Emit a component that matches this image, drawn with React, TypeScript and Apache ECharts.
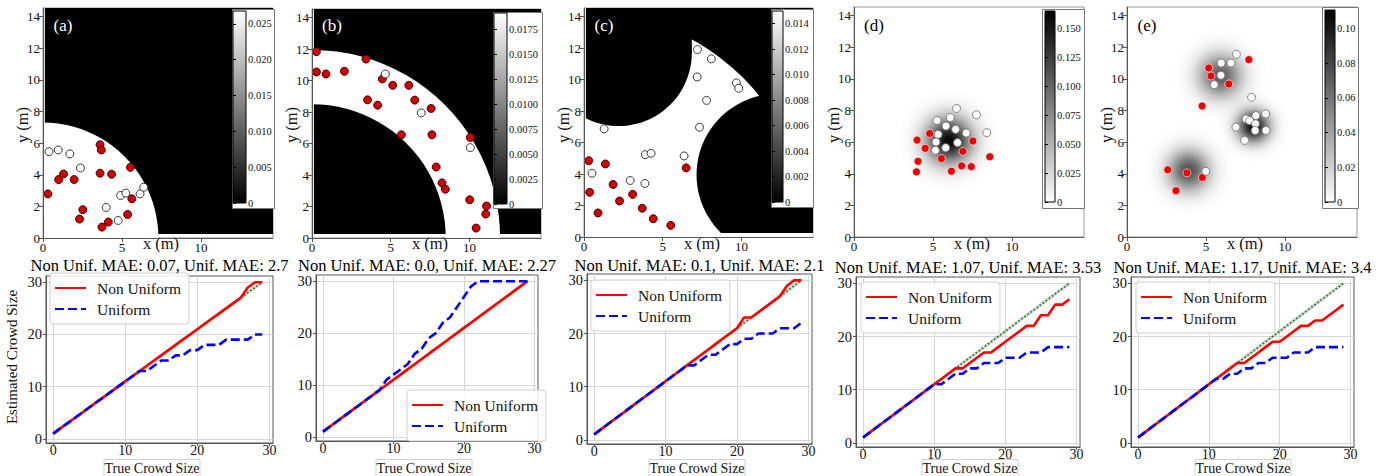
import React, { useEffect, useRef } from "react";
import * as echarts from "echarts";

const FONT = '"Liberation Serif", "Times New Roman", serif';

// ---------------- data: crowd size estimation ----------------
const trueCrowdSize = [0, 1, 2, 3, 4, 5, 6, 7, 8, 9, 10, 11, 12, 13, 14, 15, 16, 17, 18, 19, 20, 21, 22, 23, 24, 25, 26, 27, 28, 29];
const idealCount = [1, 2, 3, 4, 5, 6, 7, 8, 9, 10, 11, 12, 13, 14, 15, 16, 17, 18, 19, 20, 21, 22, 23, 24, 25, 26, 27, 28, 29, 30];

const nonUniformA = [1, 2, 3, 4, 5, 6, 7, 8, 9, 10, 11, 12, 13, 14, 15, 16, 17, 18, 19, 20, 21, 22, 23, 24, 25, 26, 27, 29, 30, 30];
const uniformA = [1, 2, 3, 4, 5, 6, 7, 8, 9, 10, 11, 12, 13, 13, 14, 15, 15, 16, 16, 17, 17, 18, 18, 18, 19, 19, 19, 19, 20, 20];
const nonUniformB = [1, 2, 3, 4, 5, 6, 7, 8, 9, 10, 11, 12, 13, 14, 15, 16, 17, 18, 19, 20, 21, 22, 23, 24, 25, 26, 27, 28, 29, 30];
const uniformB = [1, 2, 3, 4, 5, 6, 7, 8, 9, 11, 12, 13, 14, 16, 17, 19, 20, 22, 23, 25, 27, 29, 30, 30, 30, 30, 30, 30, 30, 30];
const nonUniformC = [1, 2, 3, 4, 5, 6, 7, 8, 9, 10, 11, 12, 13, 14, 15, 16, 17, 18, 19, 20, 21, 23, 23, 24, 25, 26, 27, 29, 30, 30];
const uniformC = [1, 2, 3, 4, 5, 6, 7, 8, 9, 10, 11, 12, 13, 14, 14, 15, 16, 16, 17, 18, 18, 19, 19, 20, 20, 20, 21, 21, 21, 22];
const nonUniformD = [1, 2, 3, 4, 5, 6, 7, 8, 9, 10, 11, 12, 13, 14, 14, 15, 16, 17, 17, 18, 19, 20, 21, 22, 22, 24, 24, 26, 26, 27];
const uniformD = [1, 2, 3, 4, 5, 6, 7, 8, 9, 10, 11, 11, 12, 13, 13, 14, 14, 15, 15, 15, 16, 16, 16, 17, 17, 17, 18, 18, 18, 18];
const nonUniformE = [1, 2, 3, 4, 5, 6, 7, 8, 9, 10, 11, 12, 13, 14, 15, 15, 16, 17, 18, 19, 19, 20, 21, 22, 22, 23, 23, 24, 25, 26];
const uniformE = [1, 2, 3, 4, 5, 6, 7, 8, 9, 10, 11, 12, 12, 13, 13, 14, 14, 15, 15, 16, 16, 16, 17, 17, 17, 18, 18, 18, 18, 18];

const panelTitles = [
  "Non Unif. MAE: 0.07, Unif. MAE: 2.7",
  "Non Unif. MAE: 0.0, Unif. MAE: 2.27",
  "Non Unif. MAE: 0.1, Unif. MAE: 2.1",
  "Non Unif. MAE: 1.07, Unif. MAE: 3.53",
  "Non Unif. MAE: 1.17, Unif. MAE: 3.4",
];
const panelLetters = ["(a)", "(b)", "(c)", "(d)", "(e)"];
const crowdTicks = [0, 10, 20, 30];

// ---------------- data: density maps ----------------
const mapTicksX = [0, 5, 10];
const mapTicksY = [0, 2, 4, 6, 8, 10, 12, 14];
const mapMax = 14.55;

const redA = [[0.31, 2.79], [0.99, 3.7], [1.3, 4.05], [1.97, 3.7], [2.52, 1.79], [2.31, 1.2], [3.61, 5.9], [3.69, 5.57], [3.61, 4.1], [4.34, 4.03], [5.53, 4.47], [5.62, 2.48], [5.35, 1.49], [4.13, 1.01], [3.73, 0.69]];
const whiteA = [[0.38, 5.46], [0.96, 5.57], [1.7, 5.32], [2.37, 4.43], [4.0, 1.93], [4.76, 1.11], [4.91, 2.69], [5.24, 2.84], [6.14, 2.79], [6.37, 3.21]];
const redB = [[0.28, 11.84], [0.28, 10.55], [0.89, 10.42], [2.06, 10.59], [3.43, 11.37], [4.47, 10.11], [5.13, 9.7], [6.15, 9.7], [3.53, 8.78], [4.17, 8.44], [6.53, 8.76], [7.57, 8.23], [5.68, 6.56], [7.62, 6.56], [10.06, 6.39], [7.89, 4.51], [8.26, 3.5], [8.47, 3.1], [10.02, 2.43], [11.09, 2.03], [11.04, 1.52], [10.43, 0.63]];
const whiteB = [[4.66, 10.42], [6.94, 7.95], [10.06, 5.74]];
const redC = [[0.3, 4.85], [0.36, 2.84], [1.36, 4.64], [0.89, 1.53], [1.85, 3.34], [2.26, 2.29], [3.09, 2.71], [3.7, 1.83], [4.4, 1.16], [5.51, 0.74], [6.49, 4.39]];
const whiteC = [[0.51, 4.05], [1.28, 6.87], [2.94, 3.59], [3.87, 3.4], [3.89, 5.23], [4.26, 5.32], [6.36, 5.15], [7.34, 6.97], [7.79, 8.68], [7.19, 10.17], [7.21, 11.91], [8.09, 11.32], [9.68, 9.79], [9.83, 9.45]];
const redD = [[3.99, 6.13], [4.79, 6.55], [4.5, 5.61], [4.05, 4.79], [3.95, 4.12], [5.53, 4.96], [6.16, 4.16], [6.81, 4.5], [7.42, 4.45], [6.89, 5.42], [7.52, 6.07], [8.59, 5.08]];
const whiteD = [[6.49, 8.13], [7.75, 7.73], [6.09, 7.56], [5.25, 7.37], [5.82, 7.02], [6.43, 6.81], [7.1, 6.58], [8.4, 6.6], [5.32, 6.49], [5.19, 6.01], [6.55, 5.97], [5.8, 5.65], [5.15, 5.48]];
const redE = [[5.17, 10.69], [5.31, 10.19], [6.44, 9.68], [7.71, 11.22], [4.75, 8.29], [2.58, 4.25], [3.79, 4.06], [4.77, 3.77], [3.1, 2.93]];
const whiteE = [[6.92, 11.56], [5.96, 11.01], [6.58, 11.01], [5.94, 10.23], [5.52, 9.64], [7.88, 8.84], [8.77, 7.79], [8.15, 7.68], [7.54, 7.47], [7.75, 7.37], [8.13, 7.16], [6.89, 6.95], [8.11, 6.74], [8.79, 6.74], [7.44, 6.11], [4.99, 4.15]];

// binary maps: image extent, open (non-zero) areas and blocked (zero) areas
const imageExtent = [0.12, 0.25, 14.55, 14.55];
const openRingsA = [[0, 0, 0, 7.3]]; // cx, cy, inner r, outer r
const openRingsB = [[0, 0, 8.5, 11.95]];
const openRingsC = [[0, 0, 0, 14.3]];
const blockedDisksC = [[2.2, 11.7, 4.65], [12.3, 3.95, 5.15]]; // cx, cy, r
const blockedRectsC = [[-3, 11.7, 6.85, 16]]; // x0, y0, x1, y1
// gaussian maps: cx, cy, sigma, peak density
const blobsD = [[6.0, 6.1, 1.0, 0.159]];
const blobsE = [[5.9, 10.2, 0.95, 0.07], [8.0, 7.0, 0.7, 0.105], [3.9, 4.2, 0.9, 0.075]];

const colorbarMax = [0.0268, 0.0191, 0.015, 0.1647, 0.1106];
const colorbarTicksA = [0, 0.005, 0.01, 0.015, 0.02, 0.025];
const colorbarTicksB = [0, 0.0025, 0.005, 0.0075, 0.01, 0.0125, 0.015, 0.0175];
const colorbarTicksC = [0, 0.002, 0.004, 0.006, 0.008, 0.01, 0.012, 0.014];
const colorbarTicksD = [0, 0.025, 0.05, 0.075, 0.1, 0.125, 0.15];
const colorbarTicksE = [0, 0.02, 0.04, 0.06, 0.08, 0.1];
const colorbarDecimals = [3, 4, 3, 3, 2];

// ---------------- layout (pixels) ----------------
const mapBoxes = [[43, 8, 230, 230], [312, 9, 229, 229], [584, 8, 229, 229], [854, 7, 230, 230], [1127, 7, 230, 230]];
const cbBars = [[233, 11, 13, 192], [494, 13, 13, 191], [772, 11, 11, 191], [1045, 11, 10, 191], [1325, 10, 10, 192]];
const cbBoxes = [[232, 9, 42, 199], [493, 12, 49, 196], [771, 9, 42, 198], [1042, 9, 42, 199], [1322, 7, 36, 201]];
const lineBoxes = [[46, 276, 227, 167], [316, 275, 222, 166], [587, 274, 225, 170], [856, 277, 224, 170], [1131, 277, 223, 170]];
const legendPos = [[50, 273], [407, 390], [591, 280], [861, 282], [1136, 282]];
const titleY = [265, 265, 265, 267, 267];
const xLabelX = [152, 424, 697, 970, 1243];
const xLabelY = [468, 468, 468, 468.5, 468.5];

function rectRenderer(fill: string) {
  return (params: any, api: any) => {
    const p0 = api.coord([api.value(0), api.value(1)]);
    const p1 = api.coord([api.value(2), api.value(3)]);
    return {
      type: "rect",
      shape: {
        x: Math.min(p0[0], p1[0]),
        y: Math.min(p0[1], p1[1]),
        width: Math.abs(p1[0] - p0[0]),
        height: Math.abs(p1[1] - p0[1]),
      },
      style: { fill },
    };
  };
}

function ringRenderer(fill: string) {
  return (params: any, api: any) => {
    const c = api.coord([api.value(0), api.value(1)]);
    const r0 = api.size([api.value(2), 0])[0];
    const r = api.size([api.value(3), 0])[0];
    return { type: "ring", shape: { cx: c[0], cy: c[1], r, r0 }, style: { fill } };
  };
}

function diskRenderer(fill: string) {
  return (params: any, api: any) => {
    const c = api.coord([api.value(0), api.value(1)]);
    const r = api.size([api.value(2), 0])[0];
    return { type: "circle", shape: { cx: c[0], cy: c[1], r }, style: { fill } };
  };
}

function blobRenderer(vmax: number) {
  return (params: any, api: any) => {
    const s = api.value(2);
    const peak = api.value(3);
    const R = 3.2 * s;
    const c = api.coord([api.value(0), api.value(1)]);
    const rp = api.size([R, 0])[0];
    const stops: any[] = [];
    for (let k = 0; k <= 20; k++) {
      const t = k / 20;
      const d = peak * Math.exp(-(R * t) * (R * t) / (2 * s * s));
      stops.push({ offset: t, color: `rgba(0,0,0,${Math.min(1, d / vmax).toFixed(4)})` });
    }
    return {
      type: "circle",
      shape: { cx: c[0], cy: c[1], r: rp },
      style: { fill: new echarts.graphic.RadialGradient(0.5, 0.5, 0.5, stops) },
    };
  };
}

function colorbarRenderer(reversed: boolean) {
  return (params: any, api: any) => {
    const p0 = api.coord([api.value(0), api.value(1)]);
    const p1 = api.coord([api.value(2), api.value(3)]);
    const top = reversed ? "#000" : "#fff";
    const bottom = reversed ? "#fff" : "#000";
    return {
      type: "rect",
      shape: {
        x: Math.min(p0[0], p1[0]),
        y: Math.min(p0[1], p1[1]),
        width: Math.abs(p1[0] - p0[0]),
        height: Math.abs(p1[1] - p0[1]),
      },
      style: {
        fill: new echarts.graphic.LinearGradient(0, 0, 0, 1, [
          { offset: 0, color: top },
          { offset: 1, color: bottom },
        ]),
      },
    };
  };
}

function buildOption() {
  const mapGrid: any[] = [], cbGrid: any[] = [], lineGrid: any[] = [];
  const mapX: any[] = [], cbX: any[] = [], lineX: any[] = [];
  const mapY: any[] = [], cbY: any[] = [], lineY: any[] = [];
  const series: any[] = [];
  const legend: any[] = [];
  const graphic: any[] = [];

  const reds = [redA, redB, redC, redD, redE];
  const whites = [whiteA, whiteB, whiteC, whiteD, whiteE];
  const openRings = [openRingsA, openRingsB, openRingsC, [], []];
  const blobs = [[], [], [], blobsD, blobsE];
  const cbTicks = [colorbarTicksA, colorbarTicksB, colorbarTicksC, colorbarTicksD, colorbarTicksE];
  const nonUniform = [nonUniformA, nonUniformB, nonUniformC, nonUniformD, nonUniformE];
  const uniform = [uniformA, uniformB, uniformC, uniformD, uniformE];

  const axisText = (size: number) => ({ fontFamily: FONT, fontSize: size, color: "#111" });
  const txt = (text: string, size: number, fill = "#111") => ({
    text, fill, fontFamily: FONT, fontSize: size, textAlign: "center", textVerticalAlign: "middle",
  });

  // ---- density maps (grids 0-4) and colorbars (grids 5-9) ----
  for (let i = 0; i < 5; i++) {
    const [l, t, w, h] = mapBoxes[i];
    const binary = i < 3;
    mapGrid.push({ left: l, top: t, width: w, height: h, show: true, borderColor: "#999", borderWidth: 1, backgroundColor: "#fff", outerBoundsMode: "none" });
    mapX.push({
      gridIndex: i, type: "value", min: 0, max: mapMax, z: 5,
      axisLine: { show: true, onZero: false, lineStyle: { color: "#555" } },
      axisTick: { show: true, length: 4, customValues: mapTicksX, lineStyle: { color: "#555" } },
      axisLabel: { customValues: mapTicksX, margin: 3, ...axisText(13) },
      splitLine: { show: false },
    });
    mapY.push({
      gridIndex: i, type: "value", min: 0, max: mapMax, z: 5,
      axisLine: { show: true, onZero: false, lineStyle: { color: "#555" } },
      axisTick: { show: true, length: 4, customValues: mapTicksY, lineStyle: { color: "#555" } },
      axisLabel: { customValues: mapTicksY, margin: 3, ...axisText(13) },
      splitLine: { show: false },
    });
    const base = { type: "custom", xAxisIndex: i, yAxisIndex: i, clip: true, silent: true };
    if (binary) {
      series.push({ ...base, data: [imageExtent], renderItem: rectRenderer("#000") });
      series.push({ ...base, data: openRings[i], renderItem: ringRenderer("#fff") });
    }
    if (i === 2) {
      series.push({ ...base, data: blockedDisksC, renderItem: diskRenderer("#000") });
      series.push({ ...base, data: blockedRectsC, renderItem: rectRenderer("#000") });
      series.push({
        ...base,
        data: [[-1, -1, 16, imageExtent[1]], [-1, -1, imageExtent[0], 16]],
        renderItem: rectRenderer("#fff"),
      });
    }
    if (!binary) {
      series.push({ ...base, data: blobs[i], renderItem: blobRenderer(colorbarMax[i]) });
    }
    series.push({
      type: "scatter", xAxisIndex: i, yAxisIndex: i, silent: true, symbolSize: 8,
      data: reds[i],
      itemStyle: binary
        ? { color: "#d40000", borderColor: "#2a0000", borderWidth: 0.9, opacity: 1 }
        : { color: "#f20000", borderColor: "#ffffff", borderWidth: 0.6, opacity: 1 },
    });
    series.push({
      type: "scatter", xAxisIndex: i, yAxisIndex: i, silent: true, symbolSize: 8,
      data: whites[i],
      itemStyle: binary
        ? { color: "#ffffff", borderColor: "#222", borderWidth: 0.9, opacity: 1 }
        : { color: "#ffffff", borderColor: "#777", borderWidth: 0.9, opacity: 1 },
    });

    // inset box and colorbar
    const [bx, by, bw, bh] = cbBoxes[i];
    graphic.push({ type: "rect", z: 15, shape: { x: bx + 0.5, y: by + 0.5, width: bw, height: bh }, style: { fill: "#fff", stroke: "#777", lineWidth: 1 } });
    const [cx, cy, cw, ch] = cbBars[i];
    const gi = 5 + i;
    cbGrid.push({ left: cx, top: cy, width: cw, height: ch, show: true, borderColor: "#000", borderWidth: 1, z: 22, outerBoundsMode: "none" });
    cbX.push({ gridIndex: gi, type: "value", min: 0, max: 1, show: false });
    const dec = colorbarDecimals[i];
    cbY.push({
      gridIndex: gi, type: "value", position: "right", min: 0, max: colorbarMax[i], z: 22,
      axisLine: { show: false },
      axisTick: { show: true, length: 3, customValues: cbTicks[i], lineStyle: { color: "#000" } },
      axisLabel: {
        customValues: cbTicks[i], margin: 2,
        formatter: (v: number) => (Math.abs(v) < 1e-12 ? "0" : v.toFixed(dec)),
        ...axisText(10.5),
      },
      splitLine: { show: false },
    });
    series.push({
      type: "custom", xAxisIndex: gi, yAxisIndex: gi, z: 20, silent: true,
      data: [[0, 0, 1, colorbarMax[i]]],
      renderItem: colorbarRenderer(!binary),
    });

    // texts
    graphic.push({ type: "text", z: 100, x: l + 20, y: 25, style: txt(panelLetters[i], 17, binary ? "#fff" : "#000") });
    graphic.push({ type: "text", z: 80, x: l + 118, y: 243, style: txt("x (m)", 16.5) });
    graphic.push({ type: "text", z: 80, x: l - 21, y: 125, rotation: Math.PI / 2, style: txt("y (m)", 16.5) });
  }

  // ---- crowd size line charts (grids 10-14) ----
  for (let i = 0; i < 5; i++) {
    const [l, t, w, h] = lineBoxes[i];
    const gi = 10 + i;
    lineGrid.push({ left: l, top: t, width: w, height: h, show: true, borderColor: "#555", borderWidth: 1, backgroundColor: "#fff", outerBoundsMode: "none" });
    lineX.push({
      gridIndex: gi, type: "value", min: -1, max: 30.5,
      axisLine: { show: true, onZero: false, lineStyle: { color: "#555" } },
      axisTick: { show: true, length: 3, customValues: crowdTicks, lineStyle: { color: "#555" } },
      axisLabel: { customValues: crowdTicks, margin: 0, ...axisText(14) },
      splitLine: { show: true, lineStyle: { color: "#d6d6d6", width: 1 } },
    });
    lineY.push({
      gridIndex: gi, type: "value", min: -0.8, max: 31.2,
      axisLine: { show: true, onZero: false, lineStyle: { color: "#555" } },
      axisTick: { show: true, length: 3, customValues: crowdTicks, lineStyle: { color: "#555" } },
      axisLabel: { customValues: crowdTicks, margin: 4, ...axisText(14.5) },
      splitLine: { show: true, lineStyle: { color: "#d6d6d6", width: 1 } },
    });
    const pair = (arr: number[]) => trueCrowdSize.map((x, k) => [x, arr[k]]);
    const common = { type: "line", xAxisIndex: gi, yAxisIndex: gi, symbol: "none", silent: true };
    series.push({ ...common, name: "Ideal", data: pair(idealCount), lineStyle: { color: "rgba(60,140,60,0.3)", width: 3.2 } });
    series.push({ ...common, name: "Ideal", data: pair(idealCount), lineStyle: { color: "#3f5f3f", width: 1.6, type: [1.6, 2.2] } });
    series.push({ ...common, name: "Non Uniform", data: pair(nonUniform[i]), itemStyle: { color: "#ff0000" }, lineStyle: { color: "#ff0000", width: 2.6 } });
    series.push({ ...common, name: "Uniform", data: pair(uniform[i]), itemStyle: { color: "#0000ff" }, lineStyle: { color: "#0000ff", width: 2.6, type: [9, 4] } });

    legend.push({
      data: ["Non Uniform", "Uniform"], orient: "vertical", left: legendPos[i][0], top: legendPos[i][1],
      itemWidth: 31, itemHeight: 14, itemGap: 5, padding: [7, 8, 7, 4],
      backgroundColor: "rgba(255,255,255,0.85)", borderColor: "#d0d0d0", borderWidth: 1, borderRadius: 3,
      selectedMode: false, z: 10,
      itemStyle: { opacity: 0, color: "transparent", borderWidth: 0 },
      textStyle: { fontFamily: FONT, fontSize: 15.5, color: "#111", padding: [0, 0, 0, 6] },
    });

    graphic.push({ type: "text", z: 100, x: l + w / 2, y: titleY[i], style: txt(panelTitles[i], 16.5, "#000") });
    graphic.push({ type: "text", z: 100, x: xLabelX[i], y: xLabelY[i], style: txt("True Crowd Size", 14) });
    graphic.push({ type: "polyline", z: 1, shape: { points: [[xLabelX[i] - 48, 480], [xLabelX[i] - 48, 459.5], [xLabelX[i] + 48, 459.5], [xLabelX[i] + 48, 480]] }, style: { fill: "none", stroke: "#cfcfcf", lineWidth: 1 } });
  }

  graphic.push({ type: "text", z: 100, x: 12, y: 357, rotation: Math.PI / 2, style: txt("Estimated Crowd Size", 15) });
  graphic.push({ type: "rect", z: 90, shape: { x: 0, y: 252, width: 1388, height: 5 }, style: { fill: "#fff" } });

  return {
    animation: false,
    backgroundColor: "#fff",
    grid: [...mapGrid, ...cbGrid, ...lineGrid],
    xAxis: [...mapX, ...cbX, ...lineX],
    yAxis: [...mapY, ...cbY, ...lineY],
    series,
    legend,
    graphic,
  };
}

export default function App() {
  const ref = useRef<HTMLDivElement>(null);
  useEffect(() => {
    if (!ref.current) return;
    const chart = echarts.init(ref.current, null, { renderer: "svg" });
    chart.setOption(buildOption() as any);
    return () => chart.dispose();
  }, []);
  return <div ref={ref} style={{ position: "absolute", left: 0, top: 0, width: 1388, height: 476 }} />;
}
